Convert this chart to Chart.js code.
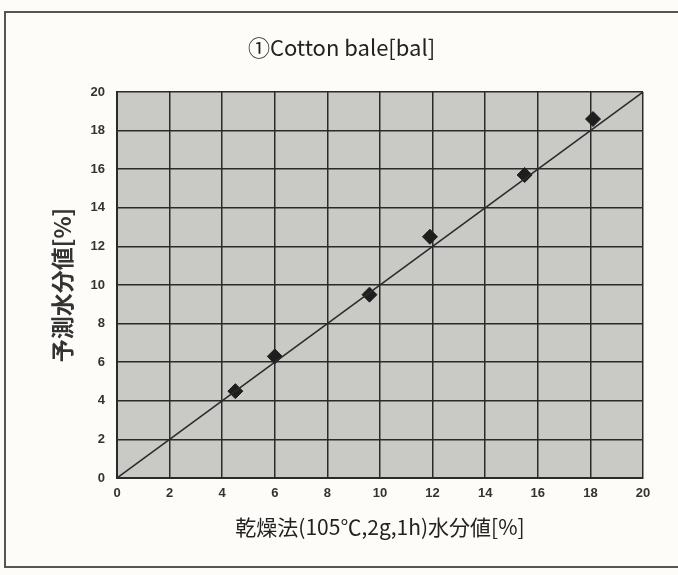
<!DOCTYPE html>
<html>
<head>
<meta charset="utf-8">
<script src="https://cdn.jsdelivr.net/npm/chart.js@4"></script>
<style>
  html, body { margin: 0; padding: 0; background: #fdfcf8; }
  #wrap { width: 678px; height: 575px; }
</style>
</head>
<body>
<div id="wrap"><canvas id="chart" width="678" height="575"></canvas></div>
<script>
const chartTitle = '①Cotton bale[bal]';
const xTitle = '乾燥法(105℃,2g,1h)水分値[%]';
const yTitle = '予測水分値[%]';

// measured (drying method) vs predicted moisture
const dryMoisture = [4.5, 6.0, 9.6, 11.9, 15.5, 18.1];
const predMoisture = [4.5, 6.3, 9.5, 12.5, 15.7, 18.6];

// 1:1 reference line
const refX = [0, 20];
const refY = [0, 20];

const axisMin = 0;
const axisMax = 20;
const axisStep = 2;

// gray plot background + outer frame
const decor = {
  id: 'decor',
  beforeDraw(chart) {
    const c = chart.ctx;
    const a = chart.chartArea;
    c.save();
    c.fillStyle = '#fdfcf8';
    c.fillRect(0, 0, chart.width, chart.height);
    c.strokeStyle = '#555';
    c.lineWidth = 2;
    c.strokeRect(5, 12, 690, 555);
    c.fillStyle = '#c9c9c6';
    c.fillRect(a.left, a.top, a.right - a.left, a.bottom - a.top);
    c.restore();
  }
};

const ctx = document.getElementById('chart').getContext('2d');
new Chart(ctx, {
  type: 'scatter',
  data: {
    datasets: [
      {
        type: 'line',
        data: refX.map((x, i) => ({ x: x, y: refY[i] })),
        borderColor: '#2b2b2b',
        borderWidth: 1.5,
        pointRadius: 0,
        fill: false
      },
      {
        data: dryMoisture.map((x, i) => ({ x: x, y: predMoisture[i] })),
        pointStyle: 'rectRot',
        pointRadius: 7.5,
        backgroundColor: '#1e1e1e',
        borderColor: '#1e1e1e'
      }
    ]
  },
  options: {
    responsive: false,
    animation: false,
    layout: { padding: { left: 40, right: 35, top: 20, bottom: 30 } },
    plugins: {
      legend: { display: false },
      tooltip: { enabled: false },
      title: {
        display: true,
        text: chartTitle,
        color: '#222',
        font: { family: '"Noto Sans CJK JP", "Liberation Sans"', size: 22, weight: 'normal' },
        padding: { top: 14, bottom: 31.6 }
      }
    },
    scales: {
      x: {
        type: 'linear',
        min: axisMin,
        max: axisMax,
        afterFit(scale) { scale.height = 67; },
        ticks: {
          stepSize: axisStep,
          color: '#333',
          padding: 8,
          maxRotation: 0,
          font: { family: '"Liberation Sans", Arial', size: 13, weight: 'bold' }
        },
        grid: { color: '#2a2a2a', lineWidth: 1.5, drawTicks: false },
        border: { color: '#2a2a2a', width: 2 },
        title: {
          display: true,
          text: xTitle,
          color: '#222',
          font: { family: '"Noto Sans CJK JP"', size: 21, weight: 'normal' },
          padding: { top: 0, bottom: 5 }
        }
      },
      y: {
        type: 'linear',
        min: axisMin,
        max: axisMax,
        afterFit(scale) { scale.width = 77; },
        ticks: {
          stepSize: axisStep,
          color: '#333',
          padding: 12,
          font: { family: '"Liberation Sans", Arial', size: 13, weight: 'bold' }
        },
        grid: { color: '#2a2a2a', lineWidth: 1.5, drawTicks: false },
        border: { color: '#2a2a2a', width: 2 },
        title: {
          display: true,
          text: yTitle,
          color: '#333',
          font: { family: '"Noto Sans CJK JP"', size: 23, weight: 'bold' },
          padding: { top: 8, bottom: 0 }
        }
      }
    }
  },
  plugins: [decor]
});
</script>
</body>
</html>
